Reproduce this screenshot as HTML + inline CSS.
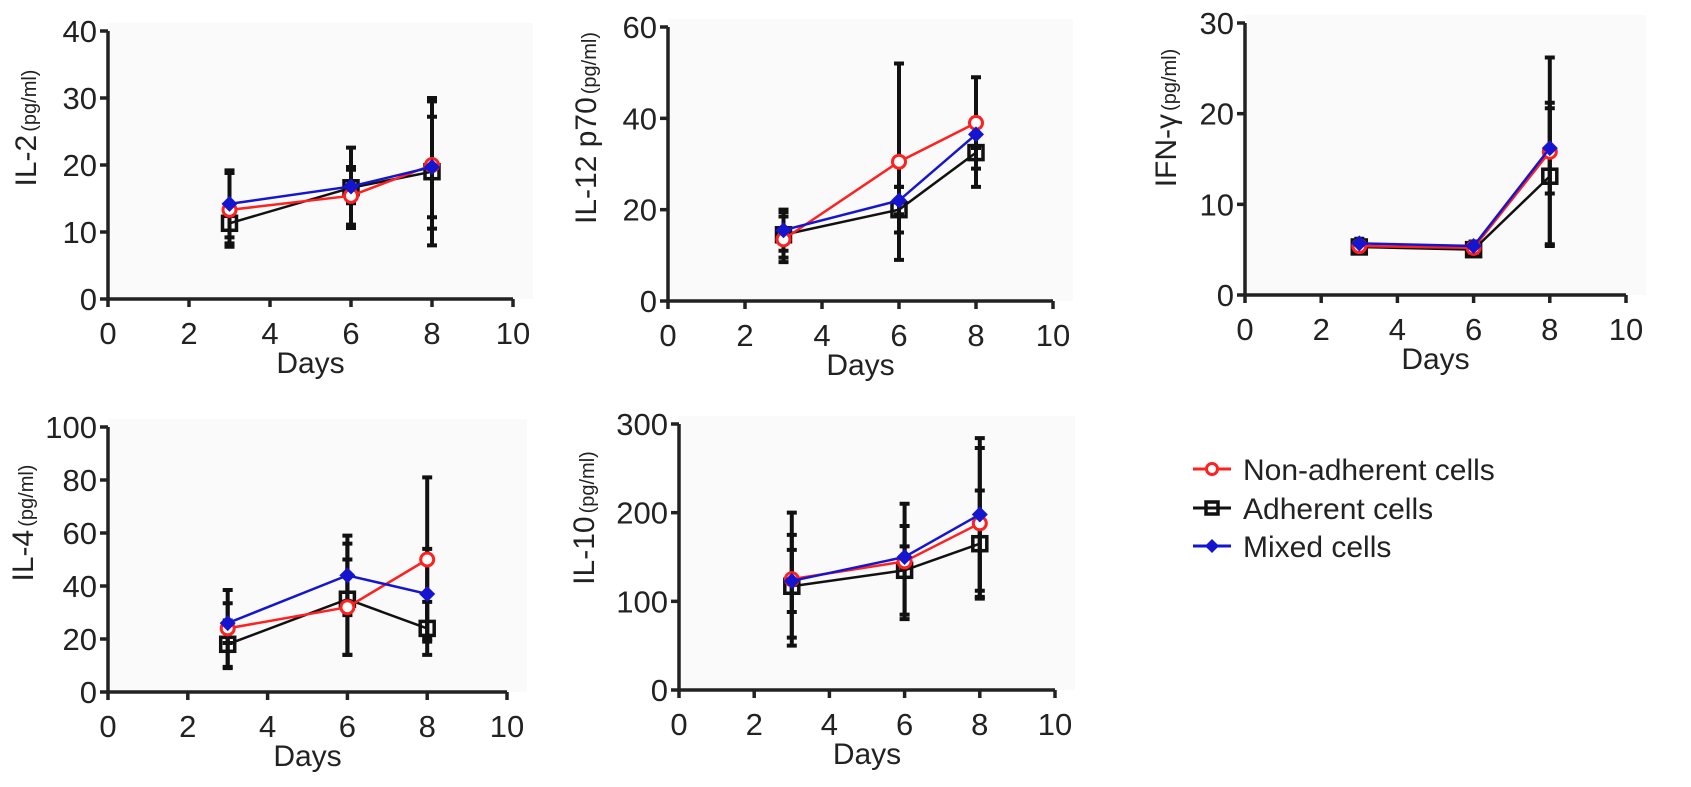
<!DOCTYPE html>
<html><head><meta charset="utf-8"><style>
body{margin:0;background:#fff;}
svg{display:block;font-family:"Liberation Sans",Arial,sans-serif;}
</style></head><body>
<svg id="fig" width="1691" height="787" viewBox="0 0 1691 787"></svg>
<script>
const days = [3, 6, 8];
const xTicks = [0, 2, 4, 6, 8, 10];
const seriesNames = ["Non-adherent cells", "Adherent cells", "Mixed cells"];
// IL-2
const il2Red = [13.3, 15.4, 20], il2RedErr = [5.5, 4.3, 9.5];
const il2Black = [11.3, 16.6, 19], il2BlackErr = [3, 6, 11];
const il2Blue = [14.2, 16.8, 19.7], il2BlueErr = [5, 2.5, 7.5];
const il2Ticks = [0, 10, 20, 30, 40];
// IL-12 p70
const il12Red = [13.5, 30.5, 39], il12RedErr = [5, 21.5, 10];
const il12Black = [14.5, 20, 32.5], il12BlackErr = [5, 5, 7.5];
const il12Blue = [15.5, 22, 36.5], il12BlueErr = [4.5, 3, 3];
const il12Ticks = [0, 20, 40, 60];
// IFN-gamma
const ifnRed = [5.4, 5.2, 15.8], ifnRedErr = [0.6, 0.6, 10.4];
const ifnBlack = [5.3, 5.0, 13.1], ifnBlackErr = [0.6, 0.6, 7.5];
const ifnBlue = [5.7, 5.4, 16.2], ifnBlueErr = [0.5, 0.5, 5];
const ifnTicks = [0, 10, 20, 30];
// IL-4
const il4Red = [24, 32, 50], il4RedErr = [14.5, 18, 31];
const il4Black = [18, 35, 24], il4BlackErr = [9, 21, 10];
const il4Blue = [26, 44, 37], il4BlueErr = [7.5, 15, 17];
const il4Ticks = [0, 20, 40, 60, 80, 100];
// IL-10
const il10Red = [125, 145, 188], il10RedErr = [75, 65, 85];
const il10Black = [117, 135, 165], il10BlackErr = [58, 50, 60];
const il10Blue = [123, 150, 198], il10BlueErr = [35, 12, 86];
const il10Ticks = [0, 100, 200, 300];

const NS = "http://www.w3.org/2000/svg";
const svg = document.getElementById("fig");
function mk(tag, attrs, parent) {
  const e = document.createElementNS(NS, tag);
  for (const k in attrs) e.setAttribute(k, attrs[k]);
  (parent || svg).appendChild(e);
  return e;
}

function panel(p) {
  const g = mk("g", {});
  
  
  const yMax = p.yTicks[p.yTicks.length - 1];
  const sx = v => p.x0 + (p.x10 - p.x0) * v / 10;
  const sy = v => p.y0 - (p.y0 - p.yTop) * v / yMax;
  mk("rect", {x: p.x0, y: p.yTop - 8, width: p.x10 - p.x0 + 20, height: p.y0 - p.yTop + 8, fill: "#fafafa"}, g);
  const ax = mk("path", {d: `M${p.x0},${p.yTop}V${p.y0}H${p.x10}`, stroke: "#222", "stroke-width": 3.5, fill: "none"}, g);
  
  
  p.yTicks.forEach(t => {
    mk("line", {x1: p.x0 - 8, x2: p.x0, y1: sy(t), y2: sy(t), stroke: "#222", "stroke-width": 3.5}, g);
    const tx = mk("text", {x: p.x0 - 11, y: sy(t) + 11, "text-anchor": "end", "font-size": 31, fill: "#222"}, g);
    tx.textContent = t;
    
    
  });
  xTicks.forEach(t => {
    mk("line", {x1: sx(t), x2: sx(t), y1: p.y0, y2: p.y0 + 8, stroke: "#222", "stroke-width": 3.5}, g);
    const tx = mk("text", {x: sx(t), y: p.y0 + 45, "text-anchor": "middle", "font-size": 31, fill: "#222"}, g);
    tx.textContent = t;
    
    
  });
  const xt = mk("text", {x: (p.x0 + p.x10) / 2, y: p.y0 + 74, "text-anchor": "middle", "font-size": 30, fill: "#222"}, g);
  xt.textContent = "Days";
  
  
  const yt = mk("text", {transform: `translate(${p.tx},${p.ty}) rotate(-90)`, "text-anchor": "middle", "font-size": 30, fill: "#222"}, g);
  
  
  const t1 = mk("tspan", {}, yt); t1.textContent = p.label;
  const t2 = mk("tspan", {"font-size": 20, dx: 3}, yt); t2.textContent = "(pg/ml)";

  const cols = ["#ff2020", "#111", "#1515d0"];
  p.series.forEach((s, si) => {
    s.vals.forEach((v, i) => {
      const x = sx(days[i]), lo = sy(v - s.err[i]), hi = sy(v + s.err[i]);
      const eb = mk("path", {d: `M${x},${lo}V${hi}M${x - 5},${lo}H${x + 5}M${x - 5},${hi}H${x + 5}`, stroke: "#111", "stroke-width": 4, fill: "none"}, g);
      
      
    });
  });
  const order = [1, 0, 2];
  order.forEach(si => {
    const s = p.series[si];
    const pl = mk("polyline", {points: s.vals.map((v, i) => sx(days[i]) + "," + sy(v)).join(" "), stroke: cols[si], "stroke-width": 2.5, fill: "none"}, g);
    
    
    s.vals.forEach((v, i) => {
      const x = sx(days[i]), y = sy(v);
      let m;
      if (si === 0) m = mk("circle", {cx: x, cy: y, r: 6.5, fill: "#fff", stroke: cols[0], "stroke-width": 3}, g);
      else if (si === 1) m = mk("rect", {x: x - 7, y: y - 7, width: 14, height: 14, fill: "none", stroke: "#111", "stroke-width": 3.5}, g);
      else m = mk("path", {d: `M${x},${y - 8}L${x + 8},${y}L${x},${y + 8}L${x - 8},${y}Z`, fill: cols[2]}, g);
      
      
    });
  });
}

panel({name: "il-2", label: "IL-2", x0: 108, x10: 513, y0: 299, yTop: 31, yTicks: il2Ticks, tx: 36, ty: 128,
  series: [{vals: il2Red, err: il2RedErr}, {vals: il2Black, err: il2BlackErr}, {vals: il2Blue, err: il2BlueErr}]});
panel({name: "il-12", label: "IL-12 p70", x0: 668, x10: 1053, y0: 301, yTop: 27, yTicks: il12Ticks, tx: 596, ty: 128,
  series: [{vals: il12Red, err: il12RedErr}, {vals: il12Black, err: il12BlackErr}, {vals: il12Blue, err: il12BlueErr}]});
panel({name: "ifn-gamma", label: "IFN-γ", x0: 1245, x10: 1626, y0: 295, yTop: 23, yTicks: ifnTicks, tx: 1176, ty: 118,
  series: [{vals: ifnRed, err: ifnRedErr}, {vals: ifnBlack, err: ifnBlackErr}, {vals: ifnBlue, err: ifnBlueErr}]});
panel({name: "il-4", label: "IL-4", x0: 108, x10: 507, y0: 692, yTop: 427, yTicks: il4Ticks, tx: 33, ty: 523,
  series: [{vals: il4Red, err: il4RedErr}, {vals: il4Black, err: il4BlackErr}, {vals: il4Blue, err: il4BlueErr}]});
panel({name: "il-10", label: "IL-10", x0: 679, x10: 1055, y0: 690, yTop: 424, yTicks: il10Ticks, tx: 594, ty: 518,
  series: [{vals: il10Red, err: il10RedErr}, {vals: il10Black, err: il10BlackErr}, {vals: il10Blue, err: il10BlueErr}]});

const lg = mk("g", {});


const lcols = ["#ff2020", "#111", "#1515d0"];
const ly = [469, 508, 546];
seriesNames.forEach((n, i) => {
  const e = mk("g", {}, lg);
  
  
  mk("line", {x1: 1193, x2: 1231, y1: ly[i], y2: ly[i], stroke: lcols[i], "stroke-width": 3}, e);
  if (i === 0) mk("circle", {cx: 1212, cy: ly[i], r: 5.5, fill: "#fff", stroke: lcols[0], "stroke-width": 3}, e);
  else if (i === 1) mk("rect", {x: 1206, y: ly[i] - 6, width: 12, height: 12, fill: "none", stroke: "#111", "stroke-width": 3.5}, e);
  else mk("path", {d: `M1212,${ly[i] - 7}L1219,${ly[i]}L1212,${ly[i] + 7}L1205,${ly[i]}Z`, fill: lcols[2]}, e);
  const t = mk("text", {x: 1243, y: ly[i] + 11, "font-size": 30, fill: "#222"}, e);
  t.textContent = n;
});
</script>
</body></html>
